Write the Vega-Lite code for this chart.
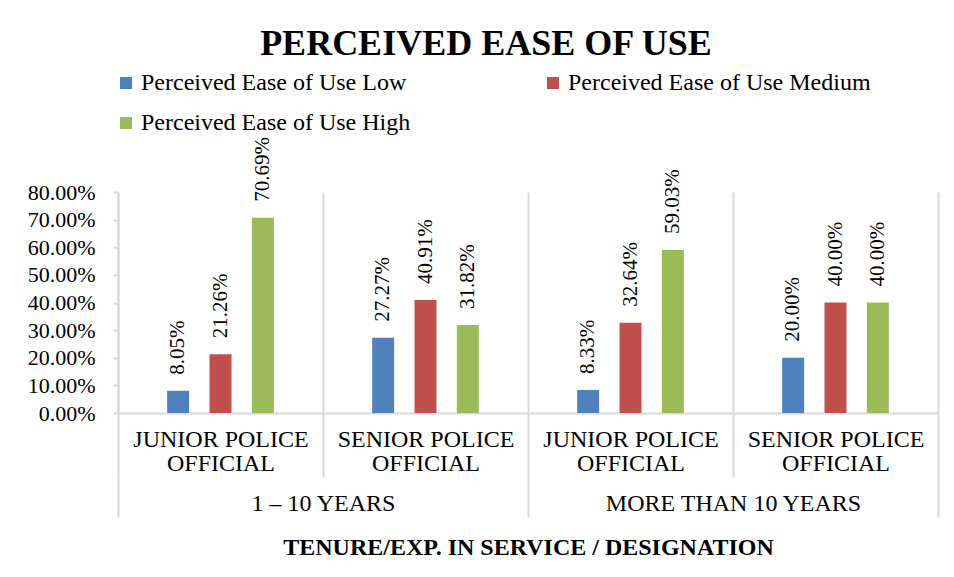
{
  "$schema": "https://vega.github.io/schema/vega-lite/v6.json",
  "width": 820,
  "height": 221,
  "autosize": {"type": "none"},
  "padding": {"left": 118, "top": 192, "right": 16, "bottom": 164},
  "background": "white",
  "config": {"view": {"stroke": null}, "font": "Liberation Serif"},
  "title": {
    "text": "PERCEIVED EASE OF USE",
    "font": "Liberation Serif",
    "fontSize": 36,
    "fontWeight": "bold",
    "color": "black",
    "anchor": "middle",
    "dx": -42,
    "offset": 8
  },
  "data": {
    "values": [
      {"tenure": "1 – 10 YEARS", "cat": "1 – 10 YEARS|JUNIOR POLICE|OFFICIAL", "series": "Perceived Ease of Use Low", "value": 0.0805},
      {"tenure": "1 – 10 YEARS", "cat": "1 – 10 YEARS|JUNIOR POLICE|OFFICIAL", "series": "Perceived Ease of Use Medium", "value": 0.2126},
      {"tenure": "1 – 10 YEARS", "cat": "1 – 10 YEARS|JUNIOR POLICE|OFFICIAL", "series": "Perceived Ease of Use High", "value": 0.7069},
      {"tenure": "1 – 10 YEARS", "cat": "1 – 10 YEARS|SENIOR POLICE|OFFICIAL", "series": "Perceived Ease of Use Low", "value": 0.2727},
      {"tenure": "1 – 10 YEARS", "cat": "1 – 10 YEARS|SENIOR POLICE|OFFICIAL", "series": "Perceived Ease of Use Medium", "value": 0.4091},
      {"tenure": "1 – 10 YEARS", "cat": "1 – 10 YEARS|SENIOR POLICE|OFFICIAL", "series": "Perceived Ease of Use High", "value": 0.3182},
      {"tenure": "MORE THAN 10 YEARS", "cat": "MORE THAN 10 YEARS|JUNIOR POLICE|OFFICIAL", "series": "Perceived Ease of Use Low", "value": 0.0833},
      {"tenure": "MORE THAN 10 YEARS", "cat": "MORE THAN 10 YEARS|JUNIOR POLICE|OFFICIAL", "series": "Perceived Ease of Use Medium", "value": 0.3264},
      {"tenure": "MORE THAN 10 YEARS", "cat": "MORE THAN 10 YEARS|JUNIOR POLICE|OFFICIAL", "series": "Perceived Ease of Use High", "value": 0.5903},
      {"tenure": "MORE THAN 10 YEARS", "cat": "MORE THAN 10 YEARS|SENIOR POLICE|OFFICIAL", "series": "Perceived Ease of Use Low", "value": 0.20},
      {"tenure": "MORE THAN 10 YEARS", "cat": "MORE THAN 10 YEARS|SENIOR POLICE|OFFICIAL", "series": "Perceived Ease of Use Medium", "value": 0.40},
      {"tenure": "MORE THAN 10 YEARS", "cat": "MORE THAN 10 YEARS|SENIOR POLICE|OFFICIAL", "series": "Perceived Ease of Use High", "value": 0.40}
    ]
  },
  "layer": [
    {
      "encoding": {
        "x": {
          "field": "cat",
          "type": "nominal",
          "sort": ["1 – 10 YEARS|JUNIOR POLICE|OFFICIAL", "1 – 10 YEARS|SENIOR POLICE|OFFICIAL", "MORE THAN 10 YEARS|JUNIOR POLICE|OFFICIAL", "MORE THAN 10 YEARS|SENIOR POLICE|OFFICIAL"],
          "scale": {"paddingInner": 0, "paddingOuter": 0},
          "axis": {
            "title": null,
            "orient": "bottom",
            "domain": true,
            "domainColor": "#d9d9d9",
            "domainWidth": 2,
            "ticks": true,
            "tickBand": "extent",
            "tickSize": 64,
            "tickColor": "#d9d9d9",
            "tickWidth": 2,
            "grid": true,
            "gridColor": "#d9d9d9",
            "gridWidth": 2,
            "labelExpr": "slice(split(datum.label, '|'), 1)",
            "labelFont": "Liberation Serif",
            "labelFontSize": 24,
            "labelColor": "black",
            "labelAngle": 0,
            "labelBaseline": "top",
            "labelPadding": -50,
            "labelLineHeight": 24,
            "labelLimit": 400,
            "labelOverlap": false,
            "labelBound": false,
            "labelFlush": false
          }
        },
        "xOffset": {
          "field": "series",
          "type": "nominal",
          "sort": ["Perceived Ease of Use Low", "Perceived Ease of Use Medium", "Perceived Ease of Use High"],
          "scale": {"paddingInner": 0, "paddingOuter": 0.92}
        },
        "y": {
          "field": "value",
          "type": "quantitative",
          "scale": {"domain": [0, 0.8], "nice": false, "zero": true},
          "axis": {
            "title": null,
            "values": [0, 0.1, 0.2, 0.3, 0.4, 0.5, 0.6, 0.7, 0.8],
            "format": ".2%",
            "domain": true,
            "domainColor": "#d9d9d9",
            "domainWidth": 2,
            "ticks": true,
            "tickColor": "#d9d9d9",
            "tickWidth": 2,
            "tickSize": 5,
            "grid": false,
            "labelFont": "Liberation Serif",
            "labelFontSize": 22,
            "labelColor": "black",
            "labelPadding": 18,
            "labelFlush": false,
            "labelOverlap": false
          }
        }
      },
      "layer": [
        {
          "mark": {"type": "bar", "width": 22},
          "encoding": {
            "color": {
              "field": "series",
              "type": "nominal",
              "sort": ["Perceived Ease of Use Low", "Perceived Ease of Use Medium", "Perceived Ease of Use High"],
              "scale": {
                "domain": ["Perceived Ease of Use Low", "Perceived Ease of Use Medium", "Perceived Ease of Use High"],
                "range": ["#4F81BD", "#C0504D", "#9BBB59"]
              },
              "legend": {
                "title": null,
                "orient": "none",
                "legendX": -4,
                "legendY": -121,
                "direction": "horizontal",
                "columns": 2,
                "columnPadding": 130,
                "rowPadding": 16,
                "symbolType": "square",
                "symbolSize": 144,
                "symbolStrokeWidth": 0,
                "labelFont": "Liberation Serif",
                "labelFontSize": 24,
                "labelColor": "black",
                "labelLimit": 400,
                "labelOffset": 3
              }
            }
          }
        },
        {
          "mark": {"type": "text", "angle": 270, "align": "left", "baseline": "middle", "dx": 16, "font": "Liberation Serif", "fontSize": 21, "color": "black"},
          "encoding": {
            "text": {"field": "value", "type": "quantitative", "format": ".2%"}
          }
        }
      ]
    },
    {
      "mark": {"type": "tick", "opacity": 0},
      "encoding": {
        "x": {
          "field": "tenure",
          "type": "nominal",
          "sort": ["1 – 10 YEARS", "MORE THAN 10 YEARS"],
          "scale": {"paddingInner": 0, "paddingOuter": 0},
          "axis": {
            "title": "TENURE/EXP. IN SERVICE / DESIGNATION",
            "orient": "bottom",
            "offset": 64,
            "domain": false,
            "grid": false,
            "ticks": true,
            "tickBand": "extent",
            "tickSize": 40,
            "tickColor": "#d9d9d9",
            "tickWidth": 2,
            "labelFont": "Liberation Serif",
            "labelFontSize": 24,
            "labelColor": "black",
            "labelAngle": 0,
            "labelBaseline": "top",
            "labelPadding": -26,
            "labelLimit": 400,
            "labelOverlap": false,
            "labelBound": false,
            "labelFlush": false,
            "titleFont": "Liberation Serif",
            "titleFontSize": 24,
            "titleFontWeight": "bold",
            "titleColor": "black",
            "titlePadding": 17
          }
        }
      }
    }
  ],
  "resolve": {"scale": {"x": "independent"}, "axis": {"x": "independent"}}
}
